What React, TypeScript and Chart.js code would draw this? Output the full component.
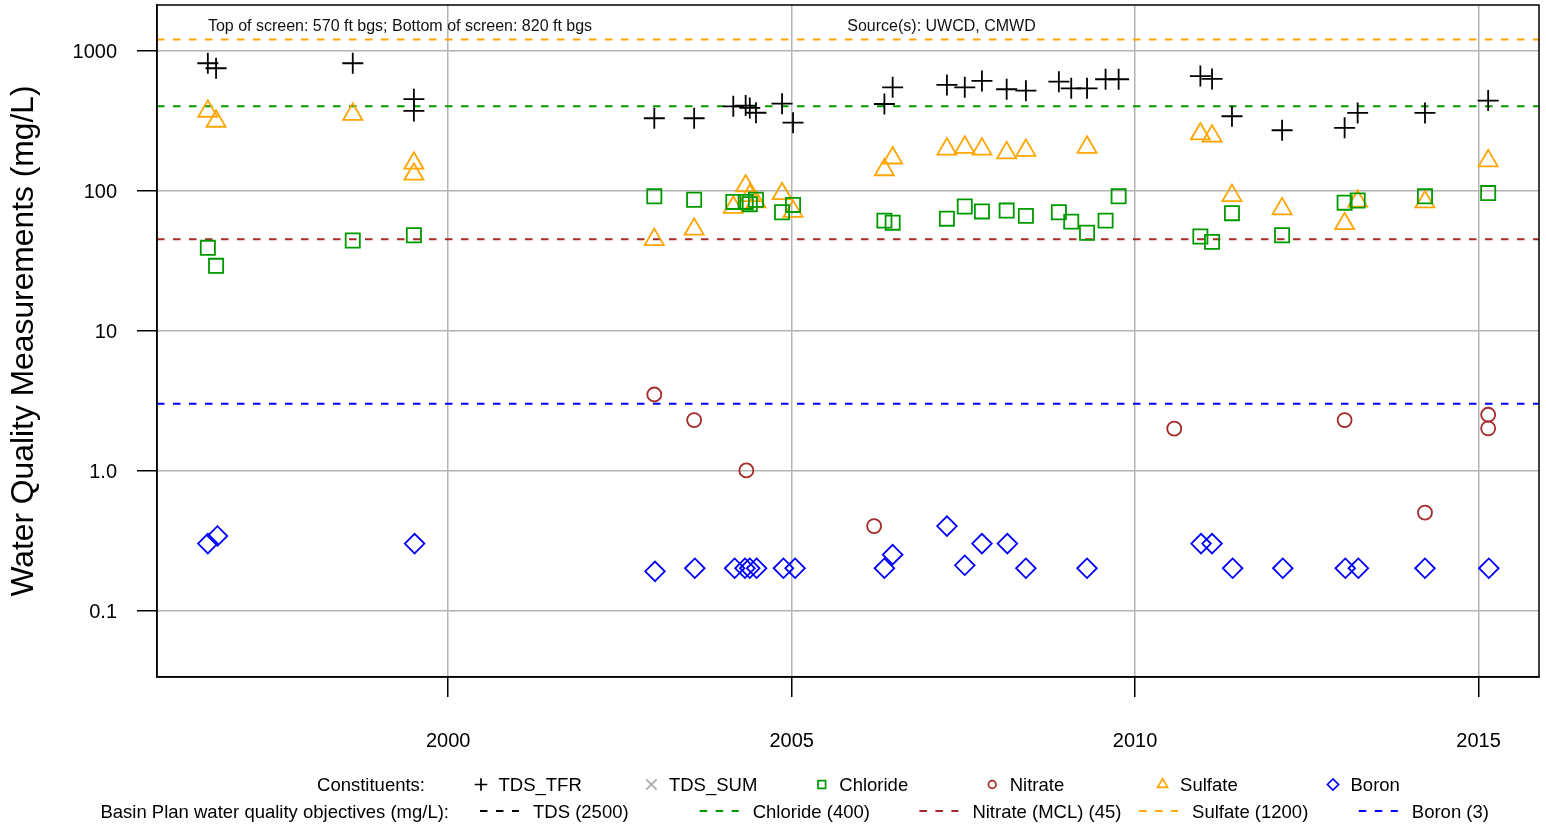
import React, { useEffect, useRef } from 'react';
import { Chart, registerables } from 'chart.js';

Chart.register(...registerables);

const FONT = "'Liberation Sans', Arial, Helvetica, sans-serif";

// ---- Data (decimal year, mg/L) ----
const tdsDates = [1996.50, 1996.62, 1998.61, 1999.50, 1999.50, 2003.00, 2003.58, 2004.15, 2004.33, 2004.39, 2004.48, 2004.86, 2005.02, 2006.35, 2006.47, 2007.26, 2007.52, 2007.77, 2008.13, 2008.41, 2008.89, 2009.07, 2009.30, 2009.57, 2009.76, 2010.95, 2011.12, 2011.41, 2012.14, 2013.05, 2013.24, 2014.22, 2015.14];
const tdsValues = [813, 749, 813, 450, 371, 329, 329, 400, 405, 390, 360, 418, 306, 416, 547, 569, 547, 608, 530, 518, 601, 538, 538, 625, 625, 659, 628, 340, 270, 281, 359, 359, 440];

const tdsSumDates: number[] = [];
const tdsSumValues: number[] = [];

const chlorideDates = [1996.50, 1996.62, 1998.61, 1999.50, 2003.00, 2003.58, 2004.15, 2004.33, 2004.39, 2004.48, 2004.86, 2005.02, 2006.35, 2006.47, 2007.26, 2007.52, 2007.77, 2008.13, 2008.41, 2008.89, 2009.07, 2009.30, 2009.57, 2009.76, 2010.95, 2011.12, 2011.41, 2012.14, 2013.05, 2013.24, 2014.22, 2015.14];
const chlorideValues = [39, 29, 44, 48, 91, 86, 83, 83, 80, 86, 70, 79, 61, 59, 63, 77, 71, 72, 66, 70, 60, 50, 61, 91, 47, 43, 69, 48, 82, 85, 91, 96];

const nitrateDates = [2003.00, 2003.58, 2004.34, 2006.20, 2010.57, 2013.05, 2014.22, 2015.14, 2015.14];
const nitrateValues = [3.49, 2.29, 1.0, 0.40, 1.99, 2.29, 0.50, 2.5, 2.0];

const sulfateDates = [1996.50, 1996.62, 1998.61, 1999.50, 1999.50, 2003.00, 2003.58, 2004.15, 2004.33, 2004.39, 2004.48, 2004.86, 2005.02, 2006.35, 2006.47, 2007.26, 2007.52, 2007.77, 2008.13, 2008.41, 2009.30, 2010.95, 2011.12, 2011.41, 2012.14, 2013.05, 2013.24, 2014.22, 2015.14];
const sulfateValues = [369, 313, 351, 157, 131, 44.6, 53, 76, 108, 92, 83, 95, 71, 141, 171, 198, 204, 198, 186, 194, 204, 254, 245, 92, 74, 58, 84, 83, 163];

const boronDates = [1996.50, 1996.64, 1999.51, 2003.01, 2003.59, 2004.17, 2004.32, 2004.39, 2004.49, 2004.88, 2005.05, 2006.35, 2006.47, 2007.26, 2007.52, 2007.77, 2008.14, 2008.41, 2009.30, 2010.96, 2011.12, 2011.42, 2012.15, 2013.06, 2013.25, 2014.22, 2015.15];
const boronValues = [0.30, 0.34, 0.30, 0.19, 0.20, 0.20, 0.20, 0.20, 0.20, 0.20, 0.20, 0.20, 0.25, 0.40, 0.21, 0.30, 0.30, 0.20, 0.20, 0.30, 0.30, 0.20, 0.20, 0.20, 0.20, 0.20, 0.20];

const constituentNames = ['TDS_TFR', 'TDS_SUM', 'Chloride', 'Nitrate', 'Sulfate', 'Boron'];
const constituentColors = ['#000000', '#AAAAAA', '#009A00', '#A52A2A', '#FFA500', '#0000FF'];
const constituentStyles = ['cross', 'crossRot', 'rect', 'circle', 'triangle', 'rectRot'];

const objectiveNames = ['TDS (2500)', 'Chloride (400)', 'Nitrate (MCL) (45)', 'Sulfate (1200)', 'Boron (3)'];
const objectiveValues = [2500, 400, 45, 1200, 3];
const objectiveColors = ['#000000', '#009A00', '#A52A2A', '#FFA500', '#0000FF'];

const xTickValues = [2000, 2005, 2010, 2015];
const yTickValues = [0.1, 1, 10, 100, 1000];
const yTickLabels = ['0.1', '1.0', '10', '100', '1000'];

const X_MIN = 1995.76;
const X_MAX = 2015.88;
const Y_MIN = 0.0334;
const Y_MAX = 2121;

const topNote = 'Top of screen: 570 ft bgs; Bottom of screen: 820 ft bgs';
const sourceNote = 'Source(s): UWCD, CMWD';
const constituentsTitle = 'Constituents:';
const objectivesTitle = 'Basin Plan water quality objectives (mg/L):';

const DASH = [7.5, 8.5];

function pts(xs: number[], ys: number[]) {
  return xs.map((x, i) => ({ x, y: ys[i] }));
}

function drawSym(ctx: CanvasRenderingContext2D, style: string, x: number, y: number, r: number, color: string, lw: number) {
  ctx.save();
  ctx.strokeStyle = color;
  ctx.lineWidth = lw;
  ctx.beginPath();
  if (style === 'cross') {
    ctx.moveTo(x - r, y); ctx.lineTo(x + r, y);
    ctx.moveTo(x, y - r); ctx.lineTo(x, y + r);
  } else if (style === 'crossRot') {
    ctx.moveTo(x - r, y - r); ctx.lineTo(x + r, y + r);
    ctx.moveTo(x + r, y - r); ctx.lineTo(x - r, y + r);
  } else if (style === 'rect') {
    ctx.rect(x - r, y - r, 2 * r, 2 * r);
  } else if (style === 'circle') {
    ctx.arc(x, y, r, 0, Math.PI * 2);
  } else if (style === 'triangle') {
    ctx.moveTo(x, y - r);
    ctx.lineTo(x + r * 0.866, y + r / 2);
    ctx.lineTo(x - r * 0.866, y + r / 2);
    ctx.closePath();
  } else if (style === 'rectRot') {
    ctx.moveTo(x - r, y); ctx.lineTo(x, y - r); ctx.lineTo(x + r, y); ctx.lineTo(x, y + r);
    ctx.closePath();
  }
  ctx.stroke();
  ctx.restore();
}

const decorPlugin = {
  id: 'decor',
  afterDraw(chart: any) {
    const { ctx, chartArea } = chart;
    const { left, right, top, bottom } = chartArea;
    ctx.save();
    // box
    ctx.strokeStyle = '#000';
    ctx.lineWidth = 1.5;
    ctx.strokeRect(left, top, right - left, bottom - top);

    // notes
    ctx.fillStyle = '#111';
    ctx.font = `16px ${FONT}`;
    ctx.textAlign = 'center';
    ctx.textBaseline = 'middle';
    ctx.fillText(topNote, 400, 26.5);
    ctx.fillText(sourceNote, 941.5, 26.5);

    // legend row 1
    const lf = `18.5px ${FONT}`;
    ctx.font = lf;
    ctx.fillStyle = '#000';
    ctx.textAlign = 'right';
    const y1 = 786;
    const y2 = 812.5;
    ctx.fillText(constituentsTitle, 425, y1);
    const symR = [6.3, 5.2, 3.8, 3.8, 5.8, 5.6];
    constituentNames.forEach((name, i) => {
      const sx = 481 + i * 170.4;
      drawSym(ctx, constituentStyles[i], sx, y1 - 1.5, symR[i], constituentColors[i], 1.7);
      ctx.fillStyle = '#000';
      ctx.textAlign = 'left';
      ctx.font = lf;
      ctx.fillText(name, sx + 17.5, y1);
    });

    // legend row 2
    ctx.textAlign = 'right';
    ctx.fillText(objectivesTitle, 449, y2);
    objectiveNames.forEach((name, i) => {
      const dx = 480 + i * 219.7;
      ctx.save();
      ctx.strokeStyle = objectiveColors[i];
      ctx.lineWidth = 2;
      ctx.setLineDash(DASH);
      ctx.beginPath();
      ctx.moveTo(dx, y2 - 1.5);
      ctx.lineTo(dx + 39, y2 - 1.5);
      ctx.stroke();
      ctx.restore();
      ctx.fillStyle = '#000';
      ctx.textAlign = 'left';
      ctx.font = lf;
      ctx.fillText(name, dx + 53, y2);
    });
    ctx.restore();
  },
};

export default function App() {
  const ref = useRef<HTMLCanvasElement>(null);

  useEffect(() => {
    if (!ref.current) return;

    const pointSeries = [
      { data: pts(tdsDates, tdsValues), r: 10.5 },
      { data: pts(tdsSumDates, tdsSumValues), r: 8 },
      { data: pts(chlorideDates, chlorideValues), r: 10 },
      { data: pts(nitrateDates, nitrateValues), r: 7 },
      { data: pts(sulfateDates, sulfateValues), r: 11 },
      { data: pts(boronDates, boronValues), r: 9.8 },
    ];

    const pointDatasets = pointSeries.map((s, i) => ({
      label: constituentNames[i],
      data: s.data,
      showLine: false,
      pointStyle: constituentStyles[i],
      pointRadius: s.r,
      pointHoverRadius: s.r,
      pointBorderColor: constituentColors[i],
      pointBackgroundColor: 'rgba(0,0,0,0)',
      pointBorderWidth: 1.8,
      borderColor: constituentColors[i],
      backgroundColor: 'rgba(0,0,0,0)',
      order: 1,
    }));

    const lineDatasets = objectiveValues.map((v, i) => ({
      label: objectiveNames[i],
      data: [{ x: X_MIN, y: v }, { x: X_MAX, y: v }],
      showLine: true,
      pointRadius: 0,
      borderColor: objectiveColors[i],
      borderWidth: 2,
      borderDash: DASH,
      order: 10,
    }));

    const chart = new Chart(ref.current, {
      type: 'scatter',
      data: { datasets: [...pointDatasets, ...lineDatasets] as any },
      options: {
        animation: false,
        responsive: false,
        maintainAspectRatio: false,
        layout: { autoPadding: false, padding: { left: 0, right: 7, top: 5, bottom: 0 } },
        plugins: {
          legend: { display: false },
          tooltip: { enabled: false },
        },
        scales: {
          x: {
            type: 'linear',
            min: X_MIN,
            max: X_MAX,
            afterBuildTicks: (scale: any) => {
              scale.ticks = xTickValues.map((v) => ({ value: v }));
            },
            afterFit: (scale: any) => {
              scale.height = 150;
              scale.paddingLeft = 0;
              scale.paddingRight = 0;
              scale.paddingTop = 0;
              scale.paddingBottom = 0;
            },
            ticks: {
              autoSkip: false,
              maxRotation: 0,
              padding: 32,
              color: '#000',
              font: { family: FONT, size: 20 },
              callback: (v: any) => String(v),
            },
            grid: {
              color: '#B4B4B4',
              lineWidth: 1.5,
              tickColor: '#000',
              tickLength: 20,
              tickWidth: 1.5,
              drawTicks: true,
            },
            border: { display: true, color: '#000', width: 1.5 },
          },
          y: {
            type: 'logarithmic',
            min: Y_MIN,
            max: Y_MAX,
            afterBuildTicks: (scale: any) => {
              scale.ticks = yTickValues.map((v) => ({ value: v }));
            },
            afterFit: (scale: any) => {
              scale.width = 157;
              scale.paddingLeft = 0;
              scale.paddingRight = 0;
              scale.paddingTop = 0;
              scale.paddingBottom = 0;
            },
            ticks: {
              autoSkip: false,
              padding: 20,
              labelOffset: 2,
              color: '#000',
              font: { family: FONT, size: 20 },
              callback: (v: any) => {
                const idx = yTickValues.indexOf(Number(v));
                return idx >= 0 ? yTickLabels[idx] : '';
              },
            },
            grid: {
              color: '#B4B4B4',
              lineWidth: 1.5,
              tickColor: '#000',
              tickLength: 20,
              tickWidth: 1.5,
              drawTicks: true,
            },
            border: { display: true, color: '#000', width: 1.5 },
            title: {
              display: true,
              text: 'Water Quality Measurements (mg/L)',
              color: '#000',
              font: { family: FONT, size: 31.8 },
              padding: { top: 5, bottom: 0 },
            },
          },
        },
      } as any,
      plugins: [decorPlugin],
    });

    return () => chart.destroy();
  }, []);

  return (
    <div style={{ position: 'absolute', left: 0, top: 0, width: 1546, height: 827, background: '#fff' }}>
      <canvas ref={ref} width={1546} height={827} style={{ display: 'block' }} />
    </div>
  );
}
